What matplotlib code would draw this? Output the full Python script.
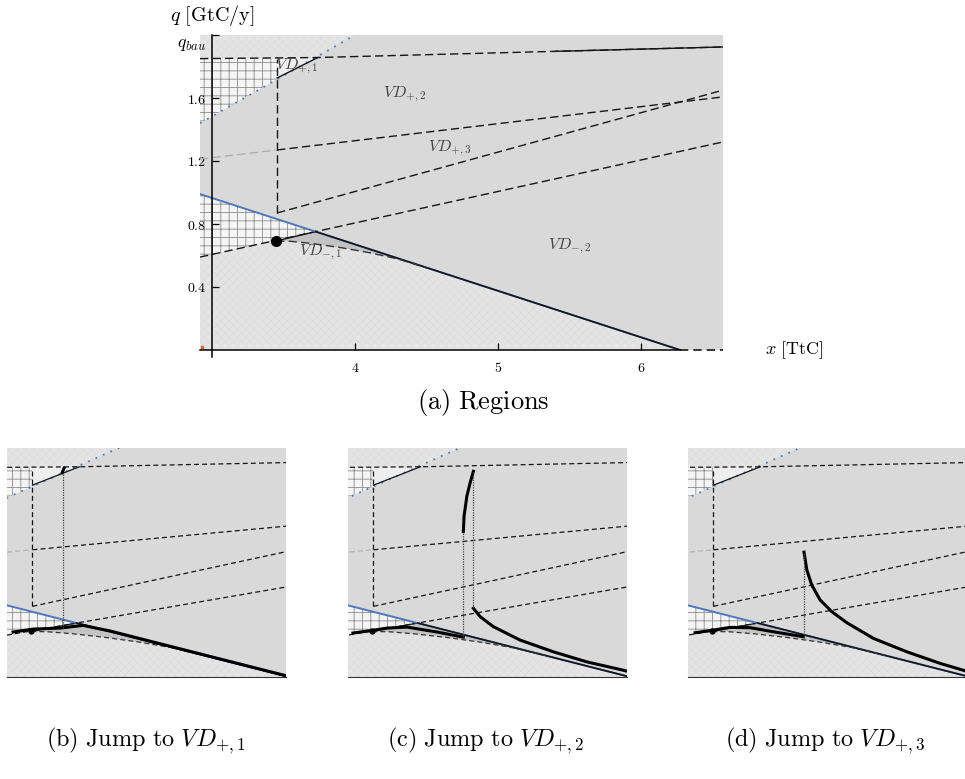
import numpy as np
import matplotlib.pyplot as plt
from matplotlib.patches import Polygon

plt.rcParams['mathtext.fontset'] = 'cm'
plt.rcParams['font.family'] = ['DejaVu Serif']

# --- limits of the region plot ---
x_lim = [2.916, 6.573]
q_lim = [0.0, 2.0]
q_bau = 2.0
y_ticks = [0.4, 0.8, 1.2, 1.6]
x_ticks = [4, 5, 6]

# --- region boundaries ---
top_x = [2.916, 3.74, 6.573]
top_q = [1.85, 1.857, 1.924]
dotted_x = [2.916, 4.0]
dotted_q = [1.44, 2.0]
vd1_x = [3.455, 3.74]
vd1_q = [1.727, 1.857]
vert_x = 3.455
vert_q = [0.87, 1.85]
lineA_x = [3.455, 6.573]
lineA_q = [0.87, 1.65]
lineB_x = [2.916, 3.455, 6.573]
lineB_q = [1.212, 1.27, 1.607]
lineC_x = [2.916, 6.573]
lineC_q = [0.590, 1.321]
blue_x = [2.916, 6.273]
blue_q = [0.99, 0.0]
junction = [3.724, 0.752]
dot_pt = [3.448, 0.692]
low_x = [3.448, 3.55, 3.70, 3.90, 4.10, 4.30, 4.50]
low_q = [0.692, 0.690, 0.676, 0.650, 0.618, 0.578, 0.522]

# --- region labels ---
lab_text = [r'$VD_{+,1}$', r'$VD_{+,2}$', r'$VD_{+,3}$', r'$VD_{-,1}$', r'$VD_{-,2}$']
lab_x = [3.59, 4.35, 4.66, 3.76, 5.50]
lab_q = [1.80, 1.62, 1.28, 0.62, 0.66]

# --- panel view and trajectories ---
pan_xlim = [3.30, 5.0]
pan_qlim = [0.37, 1.99]

tb_low_x = [3.337, 3.459, 3.623, 3.763, 3.93, 4.2, 4.6, 5.0]
tb_low_q = [0.688, 0.709, 0.716, 0.735, 0.695, 0.615, 0.497, 0.379]
tb_jump_x = 3.64
tb_top_x = [3.636, 3.648]
tb_top_q = [1.815, 1.848]

tc_low_x = [3.33, 3.45, 3.538, 3.66, 3.843, 4.003]
tc_low_q = [0.681, 0.700, 0.716, 0.723, 0.688, 0.652]
tc_up_x = [4.003, 4.007, 4.024, 4.044, 4.064]
tc_up_q = [1.399, 1.506, 1.648, 1.743, 1.825]
tc_dn_x = [4.064, 4.105, 4.186, 4.349, 4.552, 4.755, 4.959, 5.0]
tc_dn_q = [0.856, 0.797, 0.726, 0.631, 0.548, 0.477, 0.423, 0.411]

td_low_x = [3.343, 3.455, 3.556, 3.678, 3.82, 4.003]
td_low_q = [0.683, 0.702, 0.721, 0.719, 0.690, 0.655]
td_dn_x = [4.007, 4.024, 4.054, 4.105, 4.176, 4.268, 4.43, 4.634, 4.837, 5.0]
td_dn_q = [1.253, 1.128, 1.021, 0.915, 0.832, 0.754, 0.643, 0.548, 0.466, 0.41]

BG = '#d9d9d9'
BLUE = '#4f78bd'
INK = '#151515'


def fill(ax, xs, qs, fc, hatch=None, hc='none', hlw=0.5):
    with plt.rc_context({'hatch.linewidth': hlw}):
        p = Polygon(np.column_stack([xs, qs]), closed=True, facecolor=fc,
                    edgecolor=hc, linewidth=0, hatch=hatch)
    ax.add_patch(p)


def draw_regions(ax, small=False):
    ax.set_facecolor(BG)
    dsh = (4, 2.5) if small else (6, 3)
    lw = 0.9 if small else 1.0
    jx, jq = junction
    dx, dq = dot_pt
    lc_left = np.interp(x_lim[0], lineC_x, lineC_q)
    dot_at_vert = np.interp(vert_x, dotted_x, dotted_q)
    x_dot_top = np.interp(top_q[0], dotted_q, dotted_x)
    blue_end = np.interp(low_x[-1], blue_x, blue_q)

    # lower textured area
    xs = [x_lim[0], x_lim[0], dx] + low_x[1:] + [blue_x[1]]
    qs = [0, lc_left, dq] + low_q[1:] + [0]
    fill(ax, xs, qs, '#e4e4e4', 'xxxx', '#d9d9d9', 0.3)
    # top textured band
    fill(ax, [x_lim[0], x_dot_top, dotted_x[1], x_lim[0]],
         [top_q[0], top_q[0], dotted_q[1], q_lim[1]], '#e4e4e4', 'xxxx', '#d9d9d9', 0.3)
    # grid hatched areas
    fill(ax, [x_lim[0], vert_x, vert_x, x_lim[0]],
         [dotted_q[0], dot_at_vert, top_q[0], top_q[0]], '#f4f4f4', '++', '#8c8c8c', 0.6)
    fill(ax, [x_lim[0], jx, x_lim[0]], [blue_q[0], jq, lc_left],
         '#f4f4f4', '++', '#8c8c8c', 0.6)
    # VD+,1 triangle
    fill(ax, [vert_x, vd1_x[1], vert_x], [vd1_q[0], vd1_q[1], top_q[0]], '#eeeeee')
    # VD-,1 sliver
    xs = [dx, jx, low_x[-1]] + low_x[::-1][1:]
    qs = [dq, jq, blue_end] + low_q[::-1][1:]
    fill(ax, xs, qs, '#c3c3c3')

    # boundaries
    ax.plot(dotted_x, dotted_q, ls=(0, (1, 3.5)), color=BLUE, lw=1.3)
    ax.plot(top_x, top_q, color=INK, lw=lw, dashes=dsh)
    if not small:
        ax.plot([5.4, top_x[2]], np.interp([5.4, top_x[2]], top_x, top_q), color=INK, lw=lw)
    ax.plot(vd1_x, vd1_q, color=INK, lw=lw)
    ax.plot([vert_x, vert_x], vert_q, color=INK, lw=lw, dashes=dsh)
    ax.plot(lineA_x, lineA_q, color=INK, lw=lw, dashes=dsh)
    ax.plot(lineB_x[:2], lineB_q[:2], color='#b0b0b0', lw=lw, dashes=dsh)
    ax.plot(lineB_x[1:], lineB_q[1:], color=INK, lw=lw, dashes=dsh)
    ax.plot(lineC_x, lineC_q, color=INK, lw=lw, dashes=dsh)
    ax.plot([dx, jx], [dq, jq], color=INK, lw=lw)
    ax.plot(blue_x, blue_q, color=BLUE, lw=1.4)
    ax.plot([jx, blue_x[1]], [jq, blue_q[1]], color=INK, lw=1.2)
    ax.plot(low_x, low_q, color='#333333', lw=lw, dashes=dsh)
    ax.plot([dx], [dq], 'o', color='black', ms=3.5 if small else 7)


fig = plt.figure(figsize=(9.65, 7.79), dpi=100)

# ---- (a) Regions ----
ax = fig.add_axes([200 / 965, 1 - 350 / 779, 523 / 965, 315 / 779])
draw_regions(ax)
ax.set_xlim(x_lim)
ax.set_ylim(q_lim)
for t, x, q in zip(lab_text, lab_x, lab_q):
    ax.text(x, q, t, fontsize=11.5, color='#444444', ha='center', va='center')
ax.plot([2.93], [0.02], 's', color='#e8602c', ms=1.5)
ax.plot([blue_x[1], x_lim[1]], [0, 0], color=INK, lw=1.2, dashes=(5, 3), clip_on=False)

for s in ['top', 'right']:
    ax.spines[s].set_visible(False)
ax.spines['left'].set_position(('data', 3.0))
ax.spines['left'].set_bounds(-0.045, q_bau)
ax.spines['bottom'].set_bounds(x_lim[0], blue_x[1])
ax.spines['left'].set_linewidth(1.1)
ax.spines['bottom'].set_linewidth(1.1)
ax.set_xticks(x_ticks)
ax.set_xticklabels([f'${v}$' for v in x_ticks], fontsize=10)
ax.set_yticks(y_ticks + [q_bau])
ax.set_yticklabels([f'${v}$' for v in y_ticks] + [r'$q_{bau}$'], fontsize=10)
ax.get_yticklabels()[-1].set_fontsize(13)
ax.get_yticklabels()[-1].set_va('top')
ax.tick_params(direction='in', length=5, width=0.9, pad=4)
ax.tick_params(axis='x', pad=8)
fig.text(170 / 965, 1 - 15 / 779, r'$q\ \mathrm{[GtC/y]}$', fontsize=14.5, va='center', ha='left')
fig.text(765 / 965, 1 - 350 / 779, r'$x\ \mathrm{[TtC]}$', fontsize=13, va='center', ha='left')
fig.text(483 / 965, 1 - 403 / 779, r'$\mathrm{(a)\ Regions}$', fontsize=19, ha='center', va='center')

# ---- panels (b), (c), (d) ----
pan_left = [7, 348, 688]
captions = [r'$\mathrm{(b)\ Jump\ to\ }VD_{+,1}$',
            r'$\mathrm{(c)\ Jump\ to\ }VD_{+,2}$',
            r'$\mathrm{(d)\ Jump\ to\ }VD_{+,3}$']
cap_x = [146, 486, 825]
axes = []
for i, left in enumerate(pan_left):
    a = fig.add_axes([left / 965, 1 - 677 / 779, 279 / 965, 229 / 779])
    draw_regions(a, small=True)
    a.set_xlim(pan_xlim)
    a.set_ylim(pan_qlim)
    a.set_xticks([])
    a.set_yticks([])
    for s in ['top', 'right', 'left']:
        a.spines[s].set_visible(False)
    a.spines['bottom'].set_linewidth(0.8)
    a.spines['bottom'].set_color('#333333')
    fig.text(cap_x[i] / 965, 1 - 741 / 779, captions[i], fontsize=17.5, ha='center', va='center')
    axes.append(a)

TLW = 2.2
a = axes[0]
a.plot(tb_low_x, tb_low_q, color='black', lw=TLW)
a.plot([tb_jump_x, tb_jump_x], [np.interp(tb_jump_x, tb_low_x, tb_low_q), top_q[0]],
       ls=(0, (1, 1)), color='#444444', lw=0.9)
a.plot(tb_top_x, tb_top_q, color='black', lw=TLW)

a = axes[1]
a.plot(tc_low_x, tc_low_q, color='black', lw=TLW)
a.plot(tc_up_x, tc_up_q, color='black', lw=TLW)
a.plot(tc_dn_x, tc_dn_q, color='black', lw=TLW)
a.plot([tc_up_x[0], tc_up_x[0]], [tc_low_q[-1], tc_up_q[0]], ls=(0, (1, 1)), color='#444444', lw=0.9)
a.plot([tc_up_x[-1], tc_up_x[-1]], [tc_dn_q[0], tc_up_q[-1]], ls=(0, (1, 1)), color='#444444', lw=0.9)

a = axes[2]
a.plot(td_low_x, td_low_q, color='black', lw=TLW)
a.plot(td_dn_x, td_dn_q, color='black', lw=TLW)
a.plot([td_dn_x[0], td_dn_x[0]], [td_low_q[-1], td_dn_q[0]], ls=(0, (1, 1)), color='#444444', lw=0.9)

fig.savefig('out.png', dpi=100)
